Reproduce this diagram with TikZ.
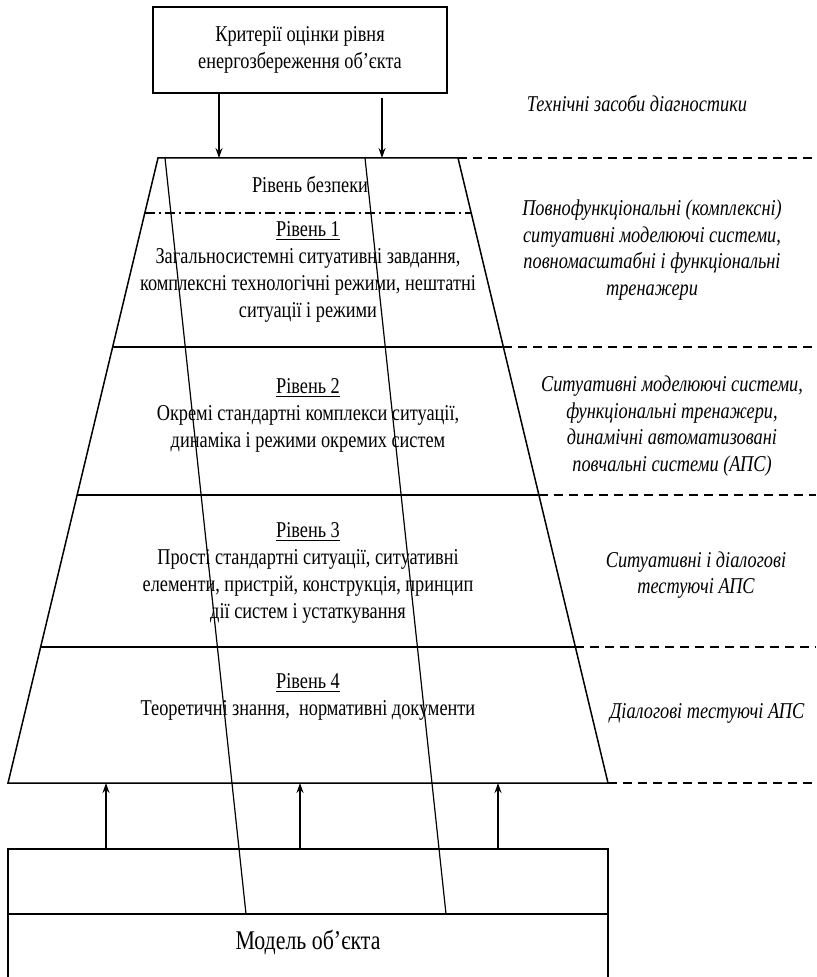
\documentclass[tikz,border=0pt]{standalone}
\usepackage{fontspec}
\setmainfont{Liberation Serif}[FakeStretch=0.81]
\usetikzlibrary{calc,arrows.meta}

\begin{document}
\begin{tikzpicture}[x=0.5pt,y=-0.5pt,line width=0.75pt,
    txt/.style={align=center,inner sep=0pt,font=\fontsize{11.3}{13.5}\selectfont},
    note/.style={align=center,inner sep=0pt,font=\fontsize{11.3}{13.3}\selectfont\itshape},
    guide/.style={dash pattern=on 4.5pt off 3pt},
    arr/.style={-{Stealth[length=5pt,width=3.5pt]}}]
    \useasboundingbox (0,0) rectangle (816,977);

    % Corners of the pyramid
    \coordinate (tl) at (158,158);
    \coordinate (tr) at (458,158);
    \coordinate (bl) at (8,783);
    \coordinate (br) at (608,783);
    \coordinate (edge) at (816,0);

    % Level borders on the sides
    \foreach \name/\yy in {safe/213,one/347,two/495,three/647} {
        \coordinate (\name-l) at ($(tl)!{(\yy-158)/625}!(bl)$);
        \coordinate (\name-r) at ($(tr)!{(\yy-158)/625}!(br)$);
    }

    % Pyramid
    \draw (tl) -- (tr) -- (br) -- (bl) -- cycle;
    \draw[dash pattern=on 5pt off 2pt on 1pt off 2pt] (safe-l) -- (safe-r);
    \draw (one-l) -- (one-r);
    \draw (two-l) -- (two-r);
    \draw (three-l) -- (three-r);

    % Dashed guides to the right
    \draw[guide] (tr) -- (tr -| edge);
    \draw[guide] (one-r) -- (one-r -| edge);
    \draw[guide] (two-r) -- (two-r -| edge);
    \draw[guide] (three-r) -- (three-r -| edge);
    \draw[guide] (br) -- (br -| edge);

    % Top box
    \node[txt,draw,minimum width=147pt,minimum height=43pt] (crit) at (300,50)
        {Критерії оцінки рівня\\ енергозбереження об’єкта};
    \coordinate (in1) at (219,158);
    \coordinate (in2) at (382,158);
    \draw[arr] (crit.south -| in1) -- (in1);
    \draw[arr] ($(crit.south -| in2)+(0,4)$) -- (in2);

    % Model box
    \coordinate (ml) at (8,849);
    \coordinate (mr) at (608,849);
    \draw (8,977) -- (ml) -- (mr) -- (608,977);
    \draw (8,914) -- (608,914);
    \node[txt] (model) at (308,942) {\fontsize{13.5}{15}\selectfont Модель об’єкта};
    \foreach \xx in {106,300,498} {
        \draw[arr] (\xx,849) -- (\xx,783);
    }

    % Slanted lines
    \draw[line width=0.6pt] (165,158) -- (246,914);
    \draw[line width=0.6pt] (365,158) -- (446,914);

    % Levels
    \node[txt] (safe) at (310,185) {Рівень безпеки};
    \node[txt] (lvl1) at (308,272) {\underline{Рівень 1}\\ Загальносистемні ситуативні завдання,\\
        комплексні технологічні режими, нештатні\\ ситуації і режими};
    \node[txt] (lvl2) at (308,415) {\underline{Рівень 2}\\ Окремі стандартні комплекси ситуації,\\
        динаміка і режими окремих систем};
    \node[txt] (lvl3) at (308,573) {\underline{Рівень 3}\\ Прості стандартні ситуації, ситуативні\\
        елементи, пристрій, конструкція, принцип\\ дії систем і устаткування};
    \node[txt] (lvl4) at (308,697) {\underline{Рівень 4}\\ Теоретичні знання,\ \ нормативні документи};

    % Means
    \node[note] (tech) at (637,104) {Технічні засоби діагностики};
    \node[note] (mean1) at (652,250) {Повнофункціональні (комплексні)\\ ситуативні моделюючі системи,\\
        повномасштабні і функціональні\\ тренажери};
    \node[note] (mean2) at (672,426) {Ситуативні моделюючі системи,\\ функціональні тренажери,\\
        динамічні автоматизовані\\ повчальні системи (АПС)};
    \node[note] (mean3) at (696,575) {Ситуативні і діалогові\\ тестуючі АПС};
    \node[note] (mean4) at (707,713) {Діалогові тестуючі АПС};

\end{tikzpicture}
\end{document}
